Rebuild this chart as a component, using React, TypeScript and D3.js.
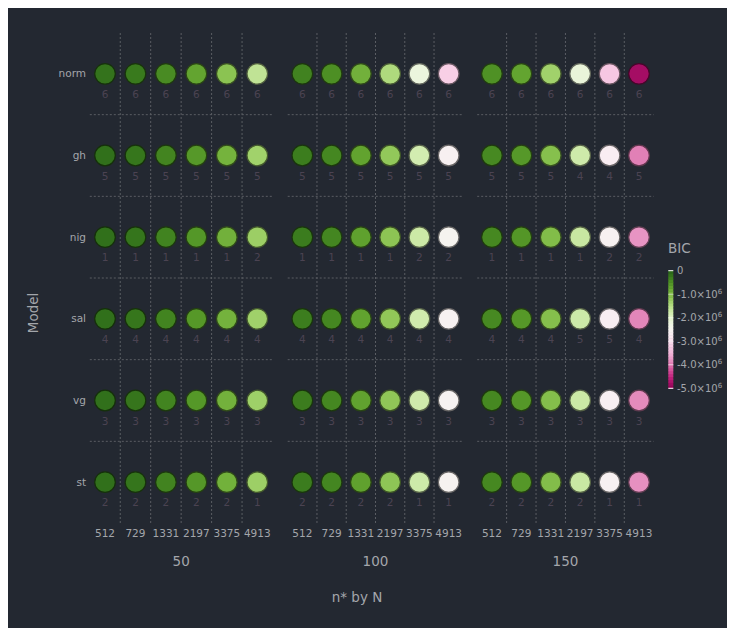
import React from "react";
import * as d3 from "d3";

const models = ["norm", "gh", "nig", "sal", "vg", "st"];
const sampleSizes = ["50", "100", "150"];
const nStar = ["512", "729", "1331", "2197", "3375", "4913"];

// BIC values in millions, order: N=50 (6 n*), N=100 (6 n*), N=150 (6 n*)
const bicNorm = [-0.166, -0.237, -0.433, -0.714, -1.097, -1.597, -0.333, -0.474, -0.865, -1.428, -2.194, -3.193, -0.499, -0.711, -1.298, -2.142, -3.291, -4.79];
const bicGh = [-0.136, -0.193, -0.353, -0.582, -0.894, -1.302, -0.271, -0.386, -0.705, -1.164, -1.789, -2.604, -0.407, -0.58, -1.058, -1.747, -2.683, -3.906];
const bicNig = [-0.131, -0.186, -0.339, -0.56, -0.861, -1.253, -0.261, -0.372, -0.679, -1.12, -1.721, -2.506, -0.392, -0.558, -1.018, -1.681, -2.582, -3.758];
const bicSal = [-0.134, -0.191, -0.349, -0.577, -0.886, -1.29, -0.269, -0.383, -0.699, -1.153, -1.772, -2.579, -0.403, -0.574, -1.048, -1.73, -2.658, -3.869];
const bicVg = [-0.133, -0.19, -0.346, -0.571, -0.878, -1.277, -0.266, -0.379, -0.692, -1.142, -1.755, -2.555, -0.399, -0.569, -1.038, -1.714, -2.633, -3.832];
const bicSt = [-0.132, -0.188, -0.343, -0.566, -0.869, -1.265, -0.264, -0.375, -0.685, -1.131, -1.738, -2.53, -0.396, -0.563, -1.028, -1.697, -2.607, -3.795];

const rankNorm = [6, 6, 6, 6, 6, 6, 6, 6, 6, 6, 6, 6, 6, 6, 6, 6, 6, 6];
const rankGh = [5, 5, 5, 5, 5, 5, 5, 5, 5, 5, 5, 5, 5, 5, 5, 4, 4, 5];
const rankNig = [1, 1, 1, 1, 1, 2, 1, 1, 1, 1, 2, 2, 1, 1, 1, 1, 2, 2];
const rankSal = [4, 4, 4, 4, 4, 4, 4, 4, 4, 4, 4, 4, 4, 4, 4, 5, 5, 4];
const rankVg = [3, 3, 3, 3, 3, 3, 3, 3, 3, 3, 3, 3, 3, 3, 3, 3, 3, 3];
const rankSt = [2, 2, 2, 2, 2, 1, 2, 2, 2, 2, 1, 1, 2, 2, 2, 2, 1, 1];

const legendTicks = [0, -1, -2, -3, -4, -5];

const bicByModel: Record<string, number[]> = { norm: bicNorm, gh: bicGh, nig: bicNig, sal: bicSal, vg: bicVg, st: bicSt };
const rankByModel: Record<string, number[]> = { norm: rankNorm, gh: rankGh, nig: rankNig, sal: rankSal, vg: rankVg, st: rankSt };

const W = 727;
const H = 620;
const BG = "#232831";
const TXT = "#a3a6ab";
const GRID = "#5a5d63";
const FONT = "DejaVu Sans, sans-serif";

const facetRanges: [number, number][] = [
  [89.8, 272.5],
  [287.7, 463.3],
  [477.2, 653.7],
];

export default function App() {
  const ox = -8, oy = -8; // coordinates measured in page space
  const y = d3.scaleBand<string>().domain(models).range([33 + oy, 523 + oy]).padding(0);
  const xs = facetRanges.map((r) => d3.scaleBand<string>().domain(nStar).range([r[0] + ox, r[1] + ox]).padding(0));
  const color = d3.scaleSequential(d3.interpolatePiYG).domain([-5, 0]);
  const ly = d3.scaleLinear().domain([-5, 0]).range([388.3 + oy, 270.7 + oy]);
  const barX = 668.3 + ox;
  const barW = 5;
  const steps = d3.range(0, 40);

  return (
    <svg width={W} height={H} style={{ display: "block" }} fontFamily={FONT}>
      <rect x={0} y={0} width={W} height={H} fill={BG} />
      {xs.map((x, fi) => {
        const [x0, x1] = x.range();
        const bw = x.bandwidth();
        return (
          <g key={"f" + fi}>
            {nStar.slice(1).map((n) => (
              <line key={"v" + n} x1={x(n)!} x2={x(n)!} y1={y.range()[0]} y2={y.range()[1]} stroke={GRID} strokeWidth={1} strokeDasharray="2,2" />
            ))}
            {models.slice(1).map((m) => (
              <line key={"h" + m} x1={x0} x2={x1} y1={y(m)!} y2={y(m)!} stroke={GRID} strokeWidth={1} strokeDasharray="2,2" />
            ))}
            {models.map((m) =>
              nStar.map((n, ni) => {
                const v = bicByModel[m][fi * 6 + ni];
                const r = rankByModel[m][fi * 6 + ni];
                const cx = x(n)! + bw / 2;
                const cy = y(m)! + y.bandwidth() / 2;
                const fill = color(v);
                const stroke = d3.color(fill)!.darker(2.4).formatHex();
                return (
                  <g key={m + n}>
                    <circle cx={cx} cy={cy} r={10.3} fill={fill} stroke={stroke} strokeWidth={1.2} />
                    <text x={cx} y={cy + 24} textAnchor="middle" fontSize={10.5} fill="#4b4352">
                      {r}
                    </text>
                  </g>
                );
              })
            )}
            {nStar.map((n) => (
              <text key={"t" + n} x={x(n)! + bw / 2} y={537 + oy} textAnchor="middle" fontSize={10.5} fill={TXT}>
                {n}
              </text>
            ))}
            <text x={(x0 + x1) / 2} y={566 + oy} textAnchor="middle" fontSize={13.5} fill={TXT}>
              {sampleSizes[fi]}
            </text>
          </g>
        );
      })}
      {models.map((m) => (
        <text key={"yl" + m} x={86 + ox} y={y(m)! + y.bandwidth() / 2 + 3.5} textAnchor="end" fontSize={10.5} fill={TXT}>
          {m}
        </text>
      ))}
      <text transform={`translate(${38 + ox},${313 + oy}) rotate(-90)`} textAnchor="middle" fontSize={13.5} fill={TXT}>
        Model
      </text>
      <text x={357 + ox} y={602 + oy} textAnchor="middle" fontSize={13.5} fill={TXT}>
        n* by N
      </text>
      <text x={668 + ox} y={253 + oy} fontSize={13.5} fill={TXT}>
        BIC
      </text>
      {steps.map((i) => {
        const v0 = -5 + (i * 5) / 40;
        const v1 = -5 + ((i + 1) * 5) / 40;
        return <rect key={"lg" + i} x={barX} width={barW} y={ly(v1)} height={ly(v0) - ly(v1) + 0.5} fill={color((v0 + v1) / 2)} />;
      })}
      {legendTicks.map((t) => (
        <g key={"lt" + t}>
          <line x1={barX} x2={barX + barW} y1={ly(t)} y2={ly(t)} stroke="#ffffff" strokeWidth={1} opacity={t === 0 || t === -5 ? 1 : 0.6} />
          <text x={677 + ox} y={ly(t) + 3.5} fontSize={10} fill={TXT}>
            {t === 0 ? "0" : `${t.toFixed(1)}×10`}
            {t === 0 ? null : (
              <tspan fontSize={7} dy={-4}>
                6
              </tspan>
            )}
          </text>
        </g>
      ))}
    </svg>
  );
}
